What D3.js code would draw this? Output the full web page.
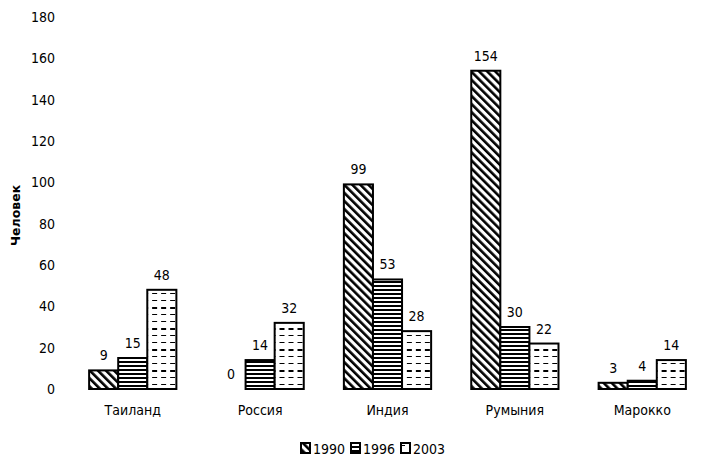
<!DOCTYPE html>
<html>
<head>
<meta charset="utf-8">
<script src="https://cdn.jsdelivr.net/npm/d3@7"></script>
<style>
  body { margin: 0; background: #fff; }
  text { font-family: "Liberation Sans Narrow", "DejaVu Sans", sans-serif; font-stretch: condensed; fill: #000; }
</style>
</head>
<body>
<div id="chart"></div>
<script>
// Data
const countries = ["Таиланд", "Россия", "Индия", "Румыния", "Марокко"];
const years = ["1990", "1996", "2003"];
const values1990 = [9, 0, 99, 154, 3];
const values1996 = [15, 14, 53, 30, 4];
const values2003 = [48, 32, 28, 22, 14];
const yTicks = [0, 20, 40, 60, 80, 100, 120, 140, 160, 180];

const series = [values1990, values1996, values2003];
const data = countries.map((c, i) => ({
  country: c,
  vals: years.map((y, j) => ({ year: y, value: series[j][i] }))
}));

const W = 712, H = 476;
const margin = { top: 17, right: 6, bottom: 87, left: 69 };
const width = W - margin.left - margin.right;
const height = H - margin.top - margin.bottom;

const svg = d3.select("#chart").append("svg")
  .attr("width", W)
  .attr("height", H);

// Fill patterns
const defs = svg.append("defs");

const p1 = defs.append("pattern")
  .attr("id", "p1990")
  .attr("patternUnits", "userSpaceOnUse")
  .attr("width", 5.7).attr("height", 10)
  .attr("patternTransform", "rotate(-45)");
p1.append("rect").attr("width", 5.7).attr("height", 10).attr("fill", "#fff");
p1.append("rect").attr("width", 2.6).attr("height", 10).attr("fill", "#000");

const p2 = defs.append("pattern")
  .attr("id", "p1996")
  .attr("patternUnits", "userSpaceOnUse")
  .attr("width", 8).attr("height", 4);
p2.append("rect").attr("width", 8).attr("height", 4).attr("fill", "#fff");
p2.append("rect").attr("y", 0).attr("width", 8).attr("height", 2).attr("fill", "#000");

const p3 = defs.append("pattern")
  .attr("id", "p2003")
  .attr("patternUnits", "userSpaceOnUse")
  .attr("width", 18).attr("height", 21);
p3.append("rect").attr("width", 18).attr("height", 21).attr("fill", "#fff");
[[3, 0, 1], [10, 9, 1], [17, 0, 2]].forEach(([y, off, h]) => {
  [0, 9].forEach(dx => {
    p3.append("rect")
      .attr("x", (off + dx) % 18).attr("y", y)
      .attr("width", 5).attr("height", h)
      .attr("fill", "#000");
  });
});

const fills = { "1990": "url(#p1990)", "1996": "url(#p1996)", "2003": "url(#p2003)" };

const g = svg.append("g")
  .attr("transform", `translate(${margin.left},${margin.top})`);

// Scales
const x0 = d3.scaleBand()
  .domain(countries)
  .range([0, width])
  .paddingInner(0.315)
  .paddingOuter(0.158);

const x1 = d3.scaleBand()
  .domain(years)
  .range([0, x0.bandwidth()]);

const y = d3.scaleLinear()
  .domain([0, 180])
  .range([height, 0]);

// Y axis (labels only)
const yAxis = d3.axisLeft(y)
  .tickValues(yTicks)
  .tickSize(0)
  .tickPadding(14);

g.append("g")
  .call(yAxis)
  .call(a => a.select(".domain").remove())
  .selectAll("text")
  .attr("font-family", null)
  .style("font-size", "14px");

// Y axis label
g.append("text")
  .attr("transform", "rotate(-90)")
  .attr("x", -(y(84)))
  .attr("y", -49)
  .style("text-anchor", "middle")
  .style("font-family", "'DejaVu Sans', sans-serif")
  .style("font-stretch", "normal")
  .style("font-weight", "bold")
  .style("font-size", "12.5px")
  .text("Человек");

// Bars
const groups = g.selectAll(".grp")
  .data(data)
  .enter().append("g")
  .attr("class", "grp")
  .attr("transform", d => `translate(${x0(d.country)},0)`);

groups.selectAll("rect")
  .data(d => d.vals)
  .enter().append("rect")
  .attr("x", d => x1(d.year))
  .attr("y", d => y(d.value))
  .attr("width", x1.bandwidth())
  .attr("height", d => height - y(d.value))
  .attr("fill", d => fills[d.year])
  .attr("stroke", d => d.value > 0 ? "#000" : "none")
  .attr("stroke-width", 2);

// Value labels
groups.selectAll(".val")
  .data(d => d.vals)
  .enter().append("text")
  .attr("class", "val")
  .attr("x", d => x1(d.year) + x1.bandwidth() / 2)
  .attr("y", d => y(d.value) - 10)
  .style("text-anchor", "middle")
  .style("font-size", "14px")
  .text(d => d.value);

// Category labels
const xAxis = d3.axisBottom(x0).tickSize(0).tickPadding(16);
g.append("g")
  .attr("transform", `translate(0,${height})`)
  .call(xAxis)
  .call(a => a.select(".domain").remove())
  .selectAll("text")
  .attr("font-family", null)
  .style("font-size", "14px");

// Legend
const legend = svg.append("g")
  .attr("transform", "translate(300,442)");

const items = legend.selectAll(".li")
  .data(years)
  .enter().append("g")
  .attr("class", "li")
  .attr("transform", (d, i) => `translate(${i * 50},0)`);

items.append("rect")
  .attr("x", 1).attr("y", 1)
  .attr("width", 9).attr("height", 10)
  .attr("fill", d => fills[d])
  .attr("stroke", "#000")
  .attr("stroke-width", 2);

items.append("text")
  .attr("x", 13)
  .attr("y", 11.5)
  .style("font-size", "14px")
  .text(d => d);
</script>
</body>
</html>
